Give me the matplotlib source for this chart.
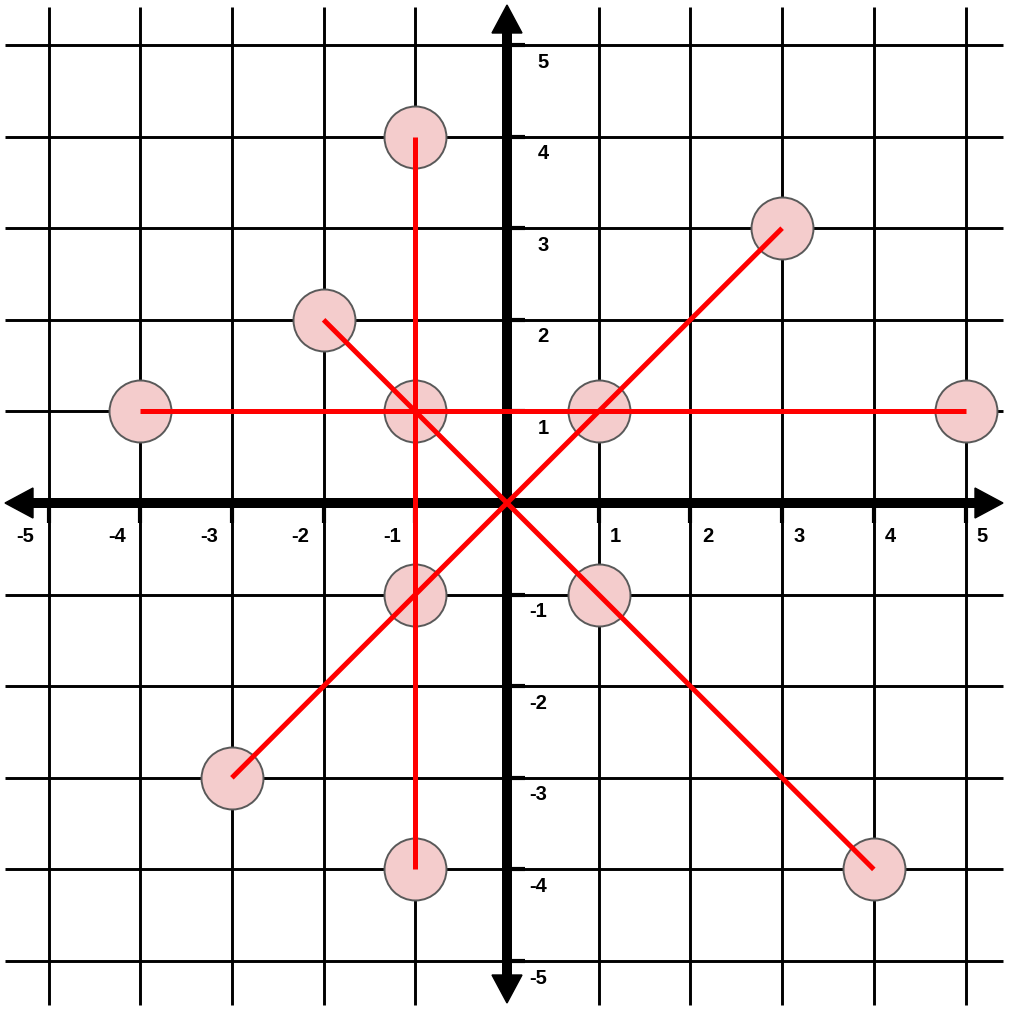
import matplotlib
matplotlib.use("Agg")
import matplotlib.pyplot as plt
from matplotlib.patches import Polygon

# ---- data ----
ticks = [-5, -4, -3, -2, -1, 1, 2, 3, 4, 5]
tick_labels = ["-5", "-4", "-3", "-2", "-1", "1", "2", "3", "4", "5"]
grid_vals = [-5, -4, -3, -2, -1, 1, 2, 3, 4, 5]

point_x = [-4, -1, 1, 5, -1, -1, -1, -2, 3, -3, 1, 4]
point_y = [1, 1, 1, 1, 4, -1, -4, 2, 3, -3, -1, -4]

seg_x0 = [-4, -1, -3, -2]
seg_y0 = [1, 4, -3, 2]
seg_x1 = [5, -1, 3, 4]
seg_y1 = [1, -4, 3, -4]

# ---- layout ----
W, H = 1015, 1018
DPI = 100
X0PX, Y0PX, UX, UY = 507.0, 503.0, 91.7, 91.6

def dx(px):
    return (px - X0PX) / UX

def dy(py):
    return (Y0PX - py) / UY

fig = plt.figure(figsize=(W / DPI, H / DPI), dpi=DPI)
ax = fig.add_axes([0, 0, 1, 1])
ax.set_xlim(dx(0), dx(W))
ax.set_ylim(dy(H), dy(0))
ax.axis("off")

# grid
for v in grid_vals:
    ax.plot([dx(5), dx(1003)], [v, v], color="black", lw=2.1, zorder=1, solid_capstyle="butt")
    ax.plot([v, v], [dy(7), dy(1005)], color="black", lw=2.1, zorder=1, solid_capstyle="butt")

# axes lines
ax.plot([dx(28), dx(980)], [0, 0], color="black", lw=7.2, zorder=2, solid_capstyle="butt")
ax.plot([0, 0], [dy(28), dy(980)], color="black", lw=7.2, zorder=2, solid_capstyle="butt")

# arrowheads
ah_len, ah_half = 28, 15
arrows = [
    [(dx(5), 0), (dx(5 + ah_len), dy(Y0PX - ah_half)), (dx(5 + ah_len), dy(Y0PX + ah_half))],
    [(dx(1003), 0), (dx(1003 - ah_len), dy(Y0PX - ah_half)), (dx(1003 - ah_len), dy(Y0PX + ah_half))],
    [(0, dy(5)), (dx(X0PX - ah_half), dy(5 + ah_len)), (dx(X0PX + ah_half), dy(5 + ah_len))],
    [(0, dy(1003)), (dx(X0PX - ah_half), dy(1003 - ah_len)), (dx(X0PX + ah_half), dy(1003 - ah_len))],
]
for tri in arrows:
    ax.add_patch(Polygon(tri, closed=True, color="black", zorder=2))

# tick marks
for t in ticks:
    ax.plot([t, t], [0, dy(Y0PX + 20)], color="black", lw=3.0, zorder=2, solid_capstyle="butt")
    ax.plot([0, dx(X0PX + 18)], [t, t], color="black", lw=3.0, zorder=2, solid_capstyle="butt")

# tick labels
for t, lab in zip(ticks, tick_labels):
    offx = -23 if t < 0 else 17
    ax.text(t + offx / UX, dy(Y0PX + 34), lab, ha="center", va="center",
            fontsize=14.5, fontweight="bold", family="Liberation Sans", zorder=3)
    lx = 538 if t < 0 else 543
    ax.text(dx(lx), t - 17 / UY, lab, ha="center", va="center",
            fontsize=14.5, fontweight="bold", family="Liberation Sans", zorder=3)

# circles
ax.scatter(point_x, point_y, s=1990, facecolor="#f4cccc", edgecolor="#595959",
           linewidths=1.4, zorder=4)

# red segments
for x0, y0, x1, y1 in zip(seg_x0, seg_y0, seg_x1, seg_y1):
    ax.plot([x0, x1], [y0, y1], color="#ff0000", lw=3.6, zorder=5, solid_capstyle="butt")

fig.savefig("out.png", dpi=DPI)
